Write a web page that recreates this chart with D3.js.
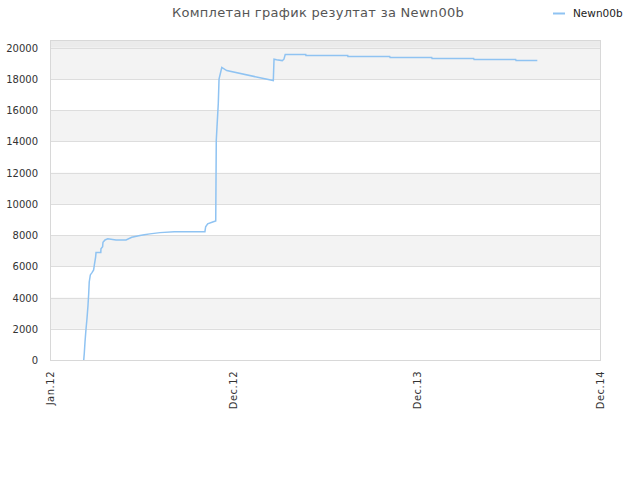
<!DOCTYPE html>
<html>
<head>
    <meta charset="utf-8">
    <title>Комплетан график резултат за Newn00b</title>
    <script src="https://cdnjs.cloudflare.com/ajax/libs/d3/7.8.5/d3.min.js"></script>
    <style>
        html, body {
            margin: 0;
            padding: 0;
            background: white;
            font-family: 'DejaVu Sans', sans-serif;
        }
    </style>
</head>
<body>
    <div id="chart"></div>
    <script>
        // x positions are in axis-interval units (0 = Jan.12, 1 = Dec.12, 2 = Dec.13, 3 = Dec.14)
        const tickLabels = ["Jan.12", "Dec.12", "Dec.13", "Dec.14"];
        const seriesName = "Newn00b";
        const xValues = [
            0.184, 0.187, 0.191, 0.196, 0.202, 0.207, 0.211, 0.214, 0.220, 0.229,
            0.238, 0.242, 0.249, 0.251, 0.277, 0.278, 0.287, 0.289, 0.300, 0.315,
            0.360, 0.415, 0.446, 0.491, 0.514, 0.545, 0.600, 0.678, 0.845, 0.849,
            0.860, 0.891, 0.904, 0.907, 0.911, 0.918, 0.922, 0.937, 0.964, 1.218,
            1.222, 1.236, 1.267, 1.276, 1.283, 1.395, 1.396, 1.624, 1.625, 1.853,
            1.855, 2.082, 2.084, 2.311, 2.313, 2.540, 2.542, 2.658
        ];
        const scores = [
            0, 430, 1170, 1920, 2690, 3460, 4230, 5000, 5450, 5600,
            5770, 6090, 6600, 6880, 6880, 7120, 7260, 7540, 7690, 7760,
            7690, 7690, 7860, 7970, 8030, 8080, 8160, 8220, 8220, 8540,
            8720, 8860, 8910, 14100, 14950, 16450, 17990, 18740, 18540, 17900,
            19270, 19230, 19180, 19270, 19570, 19570, 19510, 19510, 19440, 19440,
            19380, 19380, 19310, 19310, 19250, 19250, 19180, 19180
        ];
        const yTicks = [0, 2000, 4000, 6000, 8000, 10000, 12000, 14000, 16000, 18000, 20000];

        const width = 640, height = 480;
        const margin = { top: 40, right: 40, bottom: 120, left: 50 };
        const innerW = width - margin.left - margin.right;
        const innerH = height - margin.top - margin.bottom;

        const svg = d3.select("#chart")
            .append("svg")
            .attr("width", width)
            .attr("height", height);

        const x = d3.scaleLinear().domain([0, 3]).range([margin.left, margin.left + innerW]);
        const y = d3.scaleLinear().domain([0, 20500]).range([margin.top + innerH, margin.top]);

        // alternating bands
        svg.append("rect")
            .attr("x", margin.left)
            .attr("y", y(20500))
            .attr("width", innerW)
            .attr("height", y(20000) - y(20500))
            .attr("fill", "#ebebeb");

        svg.selectAll("rect.band")
            .data(yTicks.slice(0, -1).filter((d, i) => i % 2 === 1))
            .enter()
            .append("rect")
            .attr("class", "band")
            .attr("x", margin.left)
            .attr("y", d => y(d + 2000))
            .attr("width", innerW)
            .attr("height", d => y(d) - y(d + 2000))
            .attr("fill", "#f3f3f3");

        // grid lines
        svg.selectAll("line.grid")
            .data(yTicks.slice(1))
            .enter()
            .append("line")
            .attr("class", "grid")
            .attr("x1", margin.left)
            .attr("x2", margin.left + innerW)
            .attr("y1", d => Math.round(y(d)) + 0.5)
            .attr("y2", d => Math.round(y(d)) + 0.5)
            .attr("stroke", "#dddddd");

        // frame
        svg.append("rect")
            .attr("x", margin.left + 0.5)
            .attr("y", margin.top + 0.5)
            .attr("width", innerW)
            .attr("height", innerH)
            .attr("fill", "none")
            .attr("stroke", "#d8d8d8");

        // y labels
        svg.selectAll("text.ylab")
            .data(yTicks)
            .enter()
            .append("text")
            .attr("class", "ylab")
            .attr("x", margin.left - 12)
            .attr("y", d => y(d) + 4)
            .attr("text-anchor", "end")
            .attr("font-size", "10px")
            .attr("fill", "#333")
            .text(d => d);

        // x labels
        svg.selectAll("text.xlab")
            .data(tickLabels)
            .enter()
            .append("text")
            .attr("class", "xlab")
            .attr("transform", (d, i) => `translate(${x(i) + 4},${margin.top + innerH + 11}) rotate(-90)`)
            .attr("text-anchor", "end")
            .attr("font-size", "10px")
            .attr("letter-spacing", "0.5px")
            .attr("fill", "#333")
            .text(d => d);

        // series line
        const points = xValues.map((v, i) => [v, scores[i]]);
        const line = d3.line()
            .x(d => x(d[0]))
            .y(d => y(d[1]));

        svg.append("path")
            .datum(points)
            .attr("d", line)
            .attr("fill", "none")
            .attr("stroke", "#8fc3f2")
            .attr("stroke-width", 1.5);

        // title
        svg.append("text")
            .attr("x", 318)
            .attr("y", 17)
            .attr("text-anchor", "middle")
            .attr("font-size", "13px")
            .attr("fill", "#555")
            .attr("letter-spacing", "0.3px")
            .text("Комплетан график резултат за " + seriesName);

        // legend
        svg.append("line")
            .attr("x1", 553)
            .attr("x2", 565)
            .attr("y1", 13.5)
            .attr("y2", 13.5)
            .attr("stroke", "#8fc3f2")
            .attr("stroke-width", 2);

        svg.append("text")
            .attr("x", 573)
            .attr("y", 17)
            .attr("font-size", "10.5px")
            .attr("fill", "#222")
            .text(seriesName);
    </script>
</body>
</html>
